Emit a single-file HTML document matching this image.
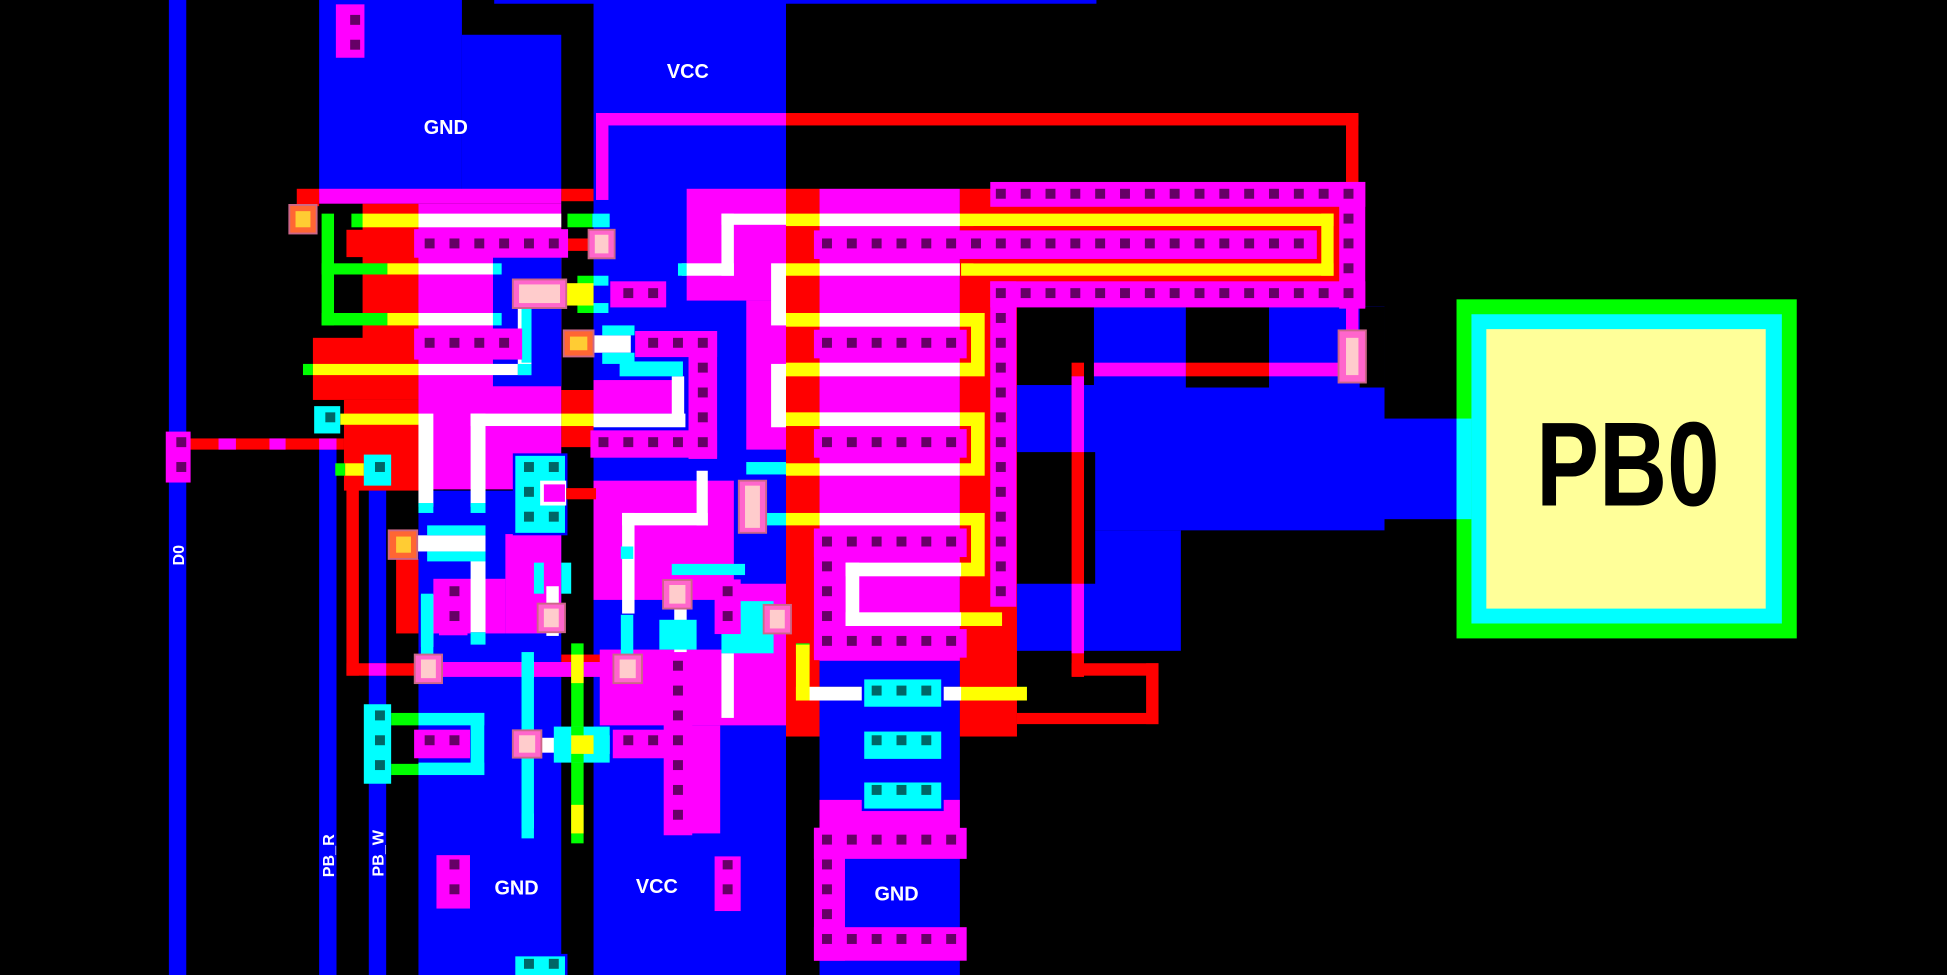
<!DOCTYPE html>
<html><head><meta charset="utf-8">
<style>
html,body{margin:0;padding:0;background:#000;}
svg{display:block;}
text{font-family:"Liberation Sans",sans-serif;font-weight:bold;fill:#fff;}
</style></head>
<body>
<svg width="1947" height="975" viewBox="0 0 1568 785" preserveAspectRatio="none" xmlns="http://www.w3.org/2000/svg">
<defs>
<pattern id="pc" patternUnits="userSpaceOnUse" x="0" y="0" width="20" height="20">
<rect width="20" height="20" fill="#ff00ff"/><rect x="2" y="12" width="8" height="8" fill="#660066"/></pattern>
<pattern id="cc" patternUnits="userSpaceOnUse" x="0" y="0" width="20" height="20">
<rect width="20" height="20" fill="#00ffff"/><rect x="2" y="12" width="8" height="8" fill="#006666"/></pattern>
</defs>
<rect width="1568" height="785" fill="#000"/>

<g fill="#0000ff">
<rect x="136" y="0" width="14" height="785"/>
<rect x="257" y="355" width="14" height="430"/>
<rect x="297" y="362" width="14" height="423"/>
<rect x="257" y="0" width="115" height="155"/>
<rect x="372" y="28" width="80" height="127"/>
<rect x="398" y="0" width="485" height="3"/>
<rect x="478" y="0" width="155" height="785"/>
<rect x="337" y="395" width="115" height="390"/>
<rect x="397" y="207" width="55" height="104"/>
<rect x="660" y="520" width="113" height="265"/>
<rect x="818" y="247" width="297" height="180"/>
<rect x="818" y="427" width="133" height="97"/>
<rect x="1114" y="337" width="60" height="81"/>
<rect x="1084" y="247" width="31" height="65"/>
</g>
<g fill="#000">
<rect x="818" y="247" width="63" height="63"/>
<rect x="955" y="247" width="67" height="65"/>
<rect x="818" y="364" width="64" height="106"/>
<rect x="1095" y="247" width="20" height="65"/>
</g>

<g fill="#ff0000">
<rect x="239" y="152" width="18" height="14"/>
<rect x="292" y="164" width="45" height="110"/>
<rect x="279" y="185" width="58" height="22"/>
<rect x="252" y="272" width="85" height="50"/>
<rect x="277" y="322" width="60" height="73"/>
<rect x="452" y="152" width="26" height="10"/>
<rect x="452" y="314" width="26" height="46"/>
<rect x="456" y="192" width="22" height="10"/>
<rect x="279" y="387" width="10" height="157"/>
<rect x="279" y="534" width="58" height="10"/>
<rect x="319" y="450" width="18" height="60"/>
<rect x="150" y="353" width="127" height="9"/>
<rect x="633" y="152" width="27" height="441"/>
<rect x="773" y="152" width="46" height="441"/>
<rect x="774" y="166" width="310" height="61"/>
<rect x="633" y="91" width="461" height="10"/>
<rect x="1084" y="91" width="10" height="56"/>
<rect x="863" y="292" width="10" height="253"/>
<rect x="863" y="534" width="70" height="10"/>
<rect x="923" y="534" width="10" height="49"/>
<rect x="819" y="574" width="114" height="9"/>
<rect x="955" y="292" width="67" height="11"/>
<rect x="452" y="527" width="40" height="17"/>
</g>
<g fill="#ff00ff">
<rect x="176" y="353" width="14" height="9"/>
<rect x="217" y="353" width="13" height="9"/>
<rect x="257" y="353" width="14" height="9"/>
<rect x="257" y="152" width="195" height="12"/>
<rect x="337" y="164" width="115" height="230"/>
<rect x="480" y="91" width="153" height="10"/>
<rect x="480" y="91" width="10" height="70"/>
<rect x="553" y="152" width="80" height="90"/>
<rect x="601" y="242" width="32" height="120"/>
<rect x="660" y="152" width="113" height="380"/>
<rect x="478" y="306" width="64" height="27"/>
<rect x="478" y="387" width="113" height="96"/>
<rect x="591" y="470" width="42" height="110"/>
<rect x="483" y="523" width="150" height="61"/>
<rect x="556" y="584" width="24" height="87"/>
<rect x="349" y="466" width="58" height="44"/>
<rect x="338" y="533" width="156" height="12"/>
<rect x="881" y="292" width="74" height="11"/>
<rect x="1022" y="292" width="56" height="11"/>
<rect x="863" y="303" width="10" height="61"/>
<rect x="863" y="470" width="10" height="56"/>
<rect x="660" y="644" width="113" height="23"/>
<rect x="1084" y="247" width="10" height="45"/>
<rect x="297" y="534" width="14" height="10"/>
<rect x="407" y="430" width="45" height="80"/>
</g>
<rect x="397" y="207" width="55" height="104" fill="#0000ff"/>
<rect x="337" y="207" width="60" height="56" fill="#ff00ff"/>

<g fill="#00ff00">
<rect x="259" y="172" width="10" height="90"/>
<rect x="259" y="212" width="53" height="9"/>
<rect x="259" y="252" width="53" height="10"/>
<rect x="283" y="172" width="10" height="11"/>
<rect x="244" y="293" width="8" height="9"/>
<rect x="270" y="373" width="8" height="10"/>
<rect x="457" y="172" width="20" height="11"/>
<rect x="465" y="222" width="13" height="30"/>
<rect x="460" y="518" width="10" height="161"/>
<rect x="315" y="574" width="22" height="10"/>
<rect x="315" y="615" width="22" height="9"/>
<rect x="641" y="518" width="11" height="9"/>
<rect x="818" y="553" width="9" height="11"/>
</g>

<g fill="#ffff00">
<rect x="292" y="172" width="45" height="11"/>
<rect x="312" y="212" width="25" height="9"/>
<rect x="312" y="252" width="25" height="10"/>
<rect x="252" y="293" width="85" height="9"/>
<rect x="274" y="333" width="63" height="9"/>
<rect x="278" y="373" width="15" height="10"/>
<rect x="456" y="228" width="22" height="18"/>
<rect x="452" y="333" width="26" height="10"/>
<rect x="460" y="527" width="10" height="23"/>
<rect x="460" y="648" width="10" height="23"/>
<rect x="452" y="592" width="26" height="15"/>
<rect x="633" y="172" width="441" height="10"/>
<rect x="1064" y="172" width="10" height="50"/>
<rect x="774" y="212" width="300" height="10"/>
<rect x="641" y="519" width="11" height="45"/>
<rect x="641" y="553" width="186" height="11"/>
</g>
<rect x="784" y="182" width="280" height="30" fill="#ff0000"/>
<g fill="#ffff00">
<rect x="633" y="212" width="27" height="10"/>
<rect x="633" y="252" width="27" height="11"/>
<rect x="633" y="292" width="27" height="11"/>
<rect x="633" y="332" width="27" height="11"/>
<rect x="633" y="373" width="27" height="10"/>
<rect x="633" y="413" width="27" height="10"/>
<rect x="773" y="252" width="20" height="51"/>
<rect x="773" y="332" width="20" height="51"/>
<rect x="773" y="413" width="20" height="51"/>
<rect x="773" y="493" width="34" height="11"/>
</g>
<rect x="773" y="263" width="9" height="29" fill="#ff0000"/>
<rect x="773" y="343" width="9" height="30" fill="#ff0000"/>
<rect x="773" y="423" width="9" height="30" fill="#ff0000"/>

<g fill="#ffffff">
<rect x="337" y="172" width="115" height="11"/>
<rect x="337" y="212" width="60" height="9"/>
<rect x="337" y="252" width="60" height="10"/>
<rect x="337" y="293" width="80" height="9"/>
<rect x="417" y="247" width="11" height="55"/>
<rect x="337" y="333" width="12" height="75"/>
<rect x="379" y="333" width="73" height="10"/>
<rect x="379" y="333" width="12" height="75"/>
<rect x="478" y="333" width="74" height="11"/>
<rect x="541" y="303" width="10" height="40"/>
<rect x="478" y="270" width="30" height="14"/>
<rect x="581" y="172" width="52" height="9"/>
<rect x="581" y="172" width="10" height="50"/>
<rect x="549" y="212" width="42" height="10"/>
<rect x="621" y="212" width="12" height="50"/>
<rect x="621" y="293" width="12" height="51"/>
<rect x="660" y="172" width="113" height="10"/>
<rect x="660" y="212" width="113" height="10"/>
<rect x="660" y="252" width="113" height="11"/>
<rect x="660" y="292" width="113" height="11"/>
<rect x="660" y="332" width="113" height="11"/>
<rect x="660" y="373" width="113" height="10"/>
<rect x="660" y="413" width="113" height="10"/>
<rect x="681" y="453" width="93" height="11"/>
<rect x="681" y="453" width="11" height="51"/>
<rect x="681" y="493" width="93" height="11"/>
<rect x="652" y="553" width="122" height="11"/>
<rect x="501" y="413" width="69" height="10"/>
<rect x="501" y="413" width="10" height="81"/>
<rect x="561" y="379" width="9" height="44"/>
<rect x="581" y="526" width="10" height="52"/>
<rect x="336" y="431" width="55" height="13"/>
<rect x="379" y="443" width="12" height="66"/>
<rect x="339" y="479" width="10" height="42"/>
<rect x="420" y="655" width="10" height="12"/>
<rect x="440" y="472" width="10" height="40"/>
<rect x="543" y="490" width="10" height="35"/>
<rect x="420" y="532" width="10" height="14"/>
<rect x="478" y="592" width="13" height="15"/>
<rect x="436" y="594" width="16" height="12"/>
</g>

<g fill="#00ffff">
<rect x="477" y="172" width="14" height="11"/>
<rect x="478" y="222" width="12" height="8"/>
<rect x="478" y="244" width="12" height="8"/>
<rect x="397" y="212" width="7" height="9"/>
<rect x="397" y="252" width="7" height="10"/>
<rect x="417" y="293" width="11" height="9"/>
<rect x="420" y="248" width="8" height="44"/>
<rect x="485" y="262" width="26" height="8"/>
<rect x="485" y="284" width="26" height="9"/>
<rect x="499" y="291" width="51" height="12"/>
<rect x="546" y="212" width="7" height="10"/>
<rect x="337" y="405" width="12" height="8"/>
<rect x="379" y="405" width="12" height="8"/>
<rect x="344" y="423" width="47" height="8"/>
<rect x="344" y="444" width="47" height="8"/>
<rect x="379" y="509" width="12" height="10"/>
<rect x="339" y="478" width="10" height="50"/>
<rect x="420" y="525" width="10" height="150"/>
<rect x="430" y="453" width="8" height="25"/>
<rect x="452" y="453" width="8" height="25"/>
<rect x="541" y="454" width="59" height="9"/>
<rect x="531" y="499" width="30" height="24"/>
<rect x="581" y="484" width="42" height="42"/>
<rect x="601" y="372" width="32" height="10"/>
<rect x="615" y="413" width="18" height="10"/>
<rect x="337" y="574" width="53" height="10"/>
<rect x="337" y="614" width="53" height="10"/>
<rect x="379" y="574" width="11" height="50"/>
<rect x="446" y="585" width="45" height="29"/>
<rect x="500" y="495" width="10" height="32"/>
<rect x="500" y="440" width="10" height="10"/>
</g>
<rect x="460" y="592" width="18" height="15" fill="#ffff00"/>
<rect x="460" y="585" width="10" height="7" fill="#00ff00"/>
<rect x="460" y="607" width="10" height="7" fill="#00ff00"/>

<g stroke="#ff00ff" stroke-width="3" fill="url(#pc)">
<rect x="335" y="186" width="121" height="20"/>
<rect x="335" y="266" width="84" height="22"/>
<rect x="493" y="228" width="42" height="18"/>
<rect x="513" y="268" width="63" height="18"/>
<rect x="556" y="268" width="20" height="100"/>
<rect x="477" y="348" width="99" height="19"/>
<rect x="799" y="148" width="299" height="17"/>
<rect x="1080" y="148" width="18" height="99"/>
<rect x="657" y="187" width="402" height="20"/>
<rect x="799" y="228" width="299" height="18"/>
<rect x="799" y="228" width="18" height="259"/>
<rect x="657" y="267" width="120" height="20"/>
<rect x="657" y="347" width="120" height="20"/>
<rect x="657" y="427" width="120" height="20"/>
<rect x="657" y="427" width="20" height="103"/>
<rect x="657" y="508" width="120" height="20"/>
<rect x="657" y="668" width="120" height="22"/>
<rect x="657" y="668" width="22" height="104"/>
<rect x="657" y="748" width="120" height="24"/>
<rect x="536" y="529" width="20" height="142"/>
<rect x="495" y="589" width="61" height="20"/>
<rect x="335" y="589" width="42" height="20"/>
<rect x="355" y="470" width="20" height="40"/>
<rect x="577" y="468" width="18" height="41"/>
<rect x="577" y="691" width="18" height="41"/>
<rect x="353" y="690" width="24" height="40"/>
<rect x="272" y="5" width="20" height="40"/>
<rect x="135" y="349" width="17" height="38"/>
</g>
<g stroke="#0000ff" stroke-width="2" fill="url(#cc)">
<rect x="414" y="366" width="42" height="64"/>
<rect x="695" y="546" width="64" height="24"/>
<rect x="695" y="588" width="64" height="24"/>
<rect x="695" y="629" width="64" height="23"/>
<rect x="414" y="769" width="42" height="18"/>
</g>
<g fill="url(#cc)">
<rect x="253" y="327" width="21" height="22"/>
<rect x="293" y="366" width="22" height="25"/>
<rect x="293" y="567" width="22" height="64"/>
</g>
<rect x="435" y="387" width="21" height="20" fill="#fff"/>
<rect x="438" y="390" width="17" height="14" fill="#ff00ff"/>
<rect x="456" y="393" width="24" height="9" fill="#ff0000"/>

<g stroke="#cc6688" stroke-width="1.5">
<rect x="233" y="165" width="22" height="23" fill="#ff6633"/>
<rect x="313" y="427" width="23" height="23" fill="#ff6633"/>
<rect x="454" y="266" width="24" height="21" fill="#ff6633"/>
<rect x="474" y="185" width="21" height="23" fill="#ff66cc"/>
<rect x="413" y="225" width="43" height="23" fill="#ff66cc"/>
<rect x="595" y="387" width="22" height="42" fill="#ff66cc"/>
<rect x="534" y="467" width="23" height="23" fill="#ff66cc"/>
<rect x="615" y="487" width="22" height="23" fill="#ff66cc"/>
<rect x="494" y="527" width="23" height="23" fill="#ff66cc"/>
<rect x="334" y="527" width="22" height="23" fill="#ff66cc"/>
<rect x="433" y="486" width="22" height="23" fill="#ff66cc"/>
<rect x="413" y="588" width="23" height="22" fill="#ff66cc"/>
<rect x="1078" y="266" width="22" height="42" fill="#ff66cc"/>
</g>
<g>
<rect x="238" y="170" width="12" height="13" fill="#ffcc33"/>
<rect x="319" y="432" width="12" height="13" fill="#ffcc33"/>
<rect x="459" y="271" width="14" height="11" fill="#ffcc33"/>
<rect x="479" y="189" width="11" height="15" fill="#ffcccc"/>
<rect x="418" y="229" width="33" height="15" fill="#ffcccc"/>
<rect x="600" y="391" width="12" height="34" fill="#ffcccc"/>
<rect x="539" y="471" width="13" height="15" fill="#ffcccc"/>
<rect x="620" y="491" width="12" height="15" fill="#ffcccc"/>
<rect x="499" y="531" width="13" height="15" fill="#ffcccc"/>
<rect x="339" y="531" width="12" height="15" fill="#ffcccc"/>
<rect x="438" y="490" width="12" height="15" fill="#ffcccc"/>
<rect x="418" y="592" width="13" height="14" fill="#ffcccc"/>
<rect x="1084" y="272" width="10" height="30" fill="#ffcccc"/>
</g>

<rect x="1173" y="241" width="274" height="273" fill="#00ff00"/>
<rect x="1185" y="253" width="250" height="249" fill="#00ffff"/>
<rect x="1173" y="337" width="12" height="81" fill="#00ffff"/>
<rect x="1197" y="265" width="225" height="225" fill="#ffff99"/>
<text transform="translate(1311,407) scale(1,1.27)" font-size="76" text-anchor="middle" style="fill:#000">PB0</text>

<g font-size="16" text-anchor="middle">
<text x="359" y="108">GND</text>
<text x="554" y="63">VCC</text>
<text x="416" y="720">GND</text>
<text x="529" y="719">VCC</text>
<text x="722" y="725">GND</text>
</g>
<g font-size="13" text-anchor="middle">
<text transform="translate(148,447) rotate(-90)">D0</text>
<text transform="translate(269,689) rotate(-90)">PB_R</text>
<text transform="translate(309,687) rotate(-90)">PB_W</text>
</g>
</svg>
</body></html>
